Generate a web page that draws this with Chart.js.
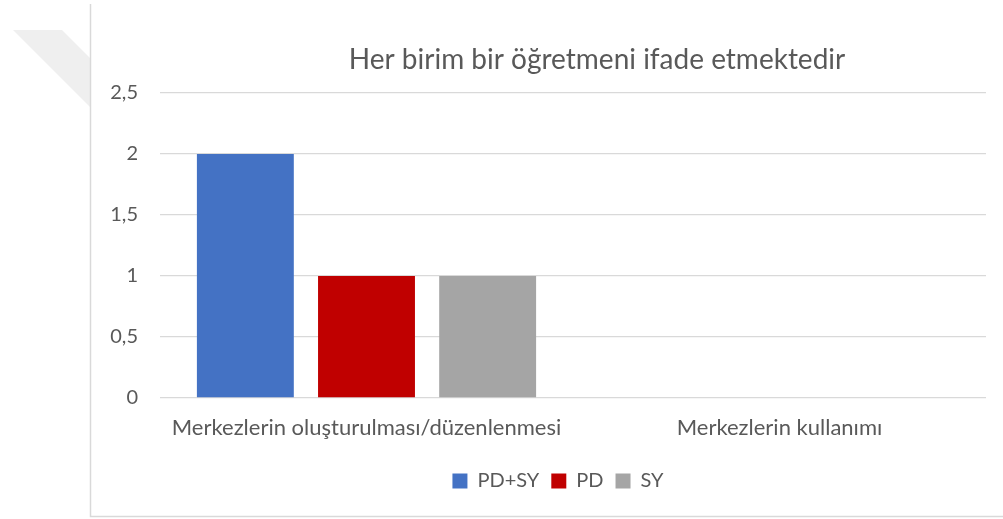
<!DOCTYPE html>
<html>
<head>
<meta charset="utf-8">
<script src="https://cdn.jsdelivr.net/npm/chart.js@4"></script>
<style>
  html, body { margin: 0; padding: 0; background: #fff; }
  #wrap { width: 1003px; height: 519px; position: relative; }
</style>
</head>
<body>
<div id="wrap"><canvas id="myChart" width="1003" height="519"></canvas></div>
<script>
var categories = ['Merkezlerin oluşturulması/düzenlenmesi', 'Merkezlerin kullanımı'];
var seriesNames = ['PD+SY', 'PD', 'SY'];
var pdSy = [2, 0];
var pd = [1, 0];
var sy = [1, 0];
var yTicks = [0, 0.5, 1, 1.5, 2, 2.5];
var colors = ['#4472C4', '#C00000', '#A5A5A5'];

// cerceve ve soluk ucgen (arka plan)
var framePlugin = {
    id: 'frame',
    afterLayout: function (chart) {
        // Excel'de baslik ve gosterge tam ortada degil, biraz saga kaymis
        chart.titleBlock.left += 58;
        chart.titleBlock.right += 58;
        chart.legend.left += 19;
        chart.legend.right += 19;
    },
    beforeDraw: function (chart) {
        var ctx = chart.ctx;
        ctx.save();
        ctx.fillStyle = '#fff';
        ctx.fillRect(0, 0, chart.width, chart.height);
        ctx.fillStyle = '#EFEFEF';
        ctx.beginPath();
        ctx.moveTo(13, 30);
        ctx.lineTo(62, 30);
        ctx.lineTo(90, 58);
        ctx.lineTo(90, 107);
        ctx.closePath();
        ctx.fill();
        ctx.strokeStyle = '#D9D9D9';
        ctx.lineWidth = 1.5;
        ctx.beginPath();
        ctx.moveTo(90.5, 4);
        ctx.lineTo(90.5, 516.5);
        ctx.lineTo(1003, 516.5);
        ctx.stroke();
        ctx.restore();
    }
};

Chart.defaults.font.family = 'Lato';
Chart.defaults.color = '#595959';

var datasets = [pdSy, pd, sy].map(function (values, i) {
    return {
        label: seriesNames[i],
        data: values,
        backgroundColor: colors[i],
        borderWidth: 0,
        categoryPercentage: 0.88,
        barPercentage: 0.8
    };
});

var ctx = document.getElementById('myChart').getContext('2d');
var myChart = new Chart(ctx, {
    type: 'bar',
    data: { labels: categories, datasets: datasets },
    options: {
        responsive: false,
        animation: false,
        layout: { padding: { left: 92, right: 17, top: 0, bottom: 18 } },
        plugins: {
            title: {
                display: true,
                text: 'Her birim bir öğretmeni ifade etmektedir',
                font: { size: 28, weight: 'normal' },
                color: '#595959',
                padding: { top: 43, bottom: 16.4 }
            },
            legend: {
                position: 'bottom',
                labels: {
                    boxWidth: 15,
                    boxHeight: 15,
                    padding: 12,
                    font: { size: 20 },
                    color: '#595959'
                }
            },
            tooltip: { enabled: false }
        },
        scales: {
            x: {
                grid: { display: false, drawTicks: false },
                border: { display: false },
                ticks: { padding: 17, font: { size: 22 }, color: '#595959', maxRotation: 0 },
                afterFit: function (scale) { scale.height = 61; }
            },
            y: {
                min: 0,
                max: 2.5,
                afterBuildTicks: function (scale) {
                    scale.ticks = yTicks.map(function (v) { return { value: v }; });
                },
                grid: { color: '#D9D9D9', lineWidth: 1.3, drawTicks: false },
                border: { display: false },
                ticks: {
                    padding: 22,
                    font: { size: 20 },
                    color: '#595959',
                    callback: function (v) { return String(v).replace('.', ','); }
                },
                afterFit: function (scale) { scale.width = 68; }
            }
        }
    },
    plugins: [framePlugin]
});
</script>
</body>
</html>
